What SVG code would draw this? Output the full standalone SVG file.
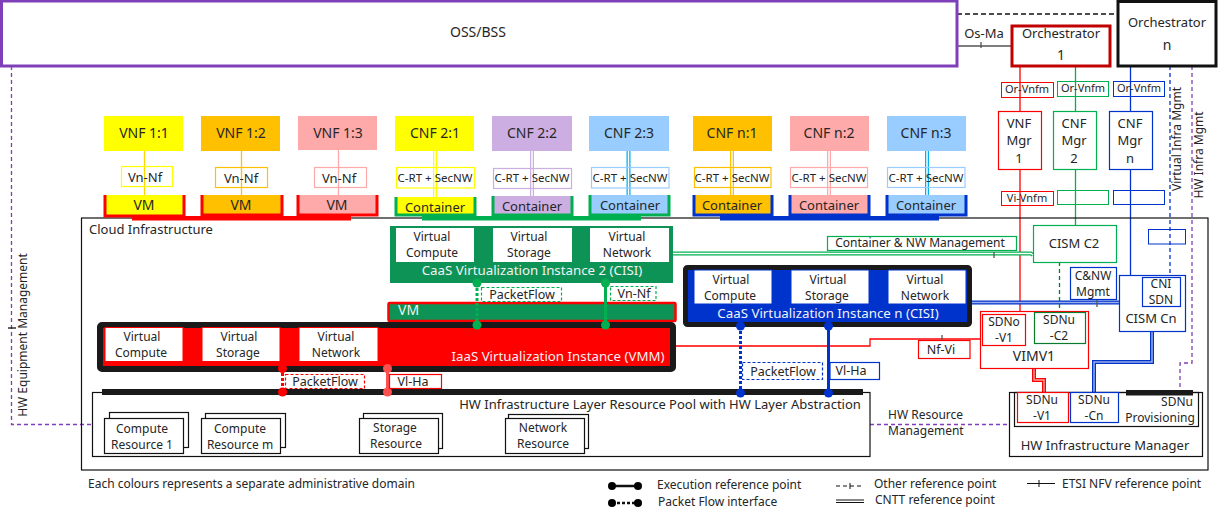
<svg xmlns="http://www.w3.org/2000/svg" width="1226" height="518" viewBox="0 0 1226 518">
<style>
text{font-family:"Noto Sans","Liberation Sans",sans-serif;font-size:13px;fill:#262626;text-anchor:middle}
.s{font-size:12px}
.xs{font-size:11px}
.m{font-size:12.500px}
.t{font-size:14px}
.l{text-anchor:start}
.w{fill:#f2f2f2;font-size:13.300px}
.b{fill:none;stroke:#111;stroke-width:1.2}
.wb{fill:#fff;stroke:#111;stroke-width:1.2}
.n{fill:#fff;stroke-width:1.2}
.red{stroke:#f00}.grn{stroke:#00b050}.blu{stroke:#0033cc}.dk{stroke:#111}
.f{fill:none}
.ln{fill:none;stroke-width:1.3}
.dl{fill:none;stroke-width:4}
.in{fill:none;stroke:#fff;stroke-width:1.5}
.dash{stroke-dasharray:4 3}
.pf{stroke-dasharray:3 2}
</style>
<g id="connectors">
<path class="ln dk" d="M957 14H1118" stroke-dasharray="5 3"/>
<path class="ln" stroke="#555" d="M957 46H1012M981 42V48"/>
<path class="ln" stroke="#f00" d="M1020 66V312"/>
<path class="ln" stroke="#00b050" d="M1075.500 66V225"/>
<path class="ln blu" d="M1130.500 66V275"/>
<path class="ln blu dash" d="M1170 66V275"/>
<path class="ln dash" stroke="#7f3fb8" d="M1192 66V363H1180V390"/>
<path class="ln dash" stroke="#7f3fb8" d="M11.500 66V424.500H92.500"/>
<path class="ln" stroke="#111" d="M8 328H16"/>
<path class="ln dash" stroke="#7f3fb8" d="M870 424.500H1009"/>
<path class="ln" stroke="#ffd500" d="M144.500 151V220"/>
<path class="ln" stroke="#ffc000" d="M241.500 151V220"/>
<path class="ln" stroke="#ffaaaa" d="M338.500 150V220"/>
<path class="dl" stroke="#ffff00" d="M435 151V218"/><path class="in" d="M435 151V218"/>
<path class="dl" stroke="#ccaee2" d="M532 151V218"/><path class="in" d="M532 151V218"/>
<path class="dl" stroke="#00b0f0" d="M628.500 151V218"/><path class="in" d="M628.500 151V218"/>
<path class="dl" stroke="#ffc000" d="M732 151V218"/><path class="in" d="M732 151V218"/>
<path class="dl" stroke="#ffaaaa" d="M829 151V218"/><path class="in" d="M829 151V218"/>
<path class="dl" stroke="#00b0f0" d="M927 151V218"/><path class="in" d="M927 151V218"/>
<path class="dl" stroke="#00b050" d="M672 253.500H1031L1033 255"/><path class="in" d="M672 253.500H1031L1033 255"/>
<path class="ln" stroke="#555" d="M994 252V258"/>
<path class="dl" stroke="#0033cc" d="M970 302.500H1119"/><path class="in" stroke-opacity=".6" d="M970 302.500H1119"/>
<path class="ln" stroke="#555" d="M1097 299V307"/>
<path class="ln dash" stroke="#0a7a2f" d="M1059.500 262V309"/>
<path class="ln" stroke="#f00" d="M673 346H870V339H980"/>
<path class="ln" stroke="#555" d="M942 335V341"/>
<path class="dl" stroke="#f00" d="M1034 368V380H1044V392"/><path class="in" stroke-opacity=".6" d="M1034 368V380H1044V392"/>
<path class="dl" stroke="#0033cc" d="M1152 331V362H1094V392"/><path class="in" stroke-opacity=".6" d="M1152 331V362H1094V392"/>
</g>
<g id="cloud-infrastructure"><rect class="b" x="81.500" y="218" width="1126.500" height="252"/><text class="l" x="89" y="234">Cloud Infrastructure</text></g>
<g id="oss-bss"><rect x="1.500" y="1" width="955.500" height="65" fill="#fff" stroke="#7f3fb8" stroke-width="3"/><text class="t" x="478" y="37">OSS/BSS</text></g>
<text x="984" y="38">Os-Ma</text>
<g id="orchestrator-1"><rect x="1012" y="26" width="98" height="40" fill="#fff" stroke="#c00000" stroke-width="3"/><text x="1061" y="38">Orchestrator</text><text class="t" x="1061" y="60">1</text></g>
<g id="orchestrator-n"><rect x="1118" y="1.500" width="98" height="64.500" fill="#fff" stroke="#111" stroke-width="3"/><text x="1167" y="27">Orchestrator</text><text class="t" x="1167" y="50">n</text></g>
<g id="or-vnfm"><rect class="f red" x="1001.500" y="82.500" width="52" height="15"/><text class="xs" x="1027" y="93">Or-Vnfm</text>
<rect class="f grn" x="1057.500" y="81.500" width="51" height="15"/><text class="xs" x="1083" y="92">Or-Vnfm</text>
<rect class="f blu" x="1113.500" y="81.500" width="51" height="15"/><text class="xs" x="1139" y="92">Or-Vnfm</text></g>
<g id="vnf-mgr-1"><rect class="n red" x="998.500" y="111.500" width="43" height="58"/><text x="1019" y="128">VNF</text><text x="1019" y="145">Mgr</text><text x="1019" y="163">1</text></g>
<g id="cnf-mgr-2"><rect class="n grn" x="1053.500" y="111.500" width="43" height="58"/><text x="1074" y="128">CNF</text><text x="1074" y="145">Mgr</text><text x="1074" y="163">2</text></g>
<g id="cnf-mgr-n"><rect class="n blu" x="1109.500" y="111.500" width="43" height="58"/><text x="1130" y="128">CNF</text><text x="1130" y="145">Mgr</text><text x="1130" y="163">n</text></g>
<g id="vi-vnfm"><rect class="f red" x="1001.500" y="191.500" width="52" height="14"/><text class="xs" x="1027" y="202">Vi-Vnfm</text>
<rect class="f grn" x="1057.500" y="190.500" width="51" height="14"/><rect class="f blu" x="1113.500" y="190.500" width="51" height="14"/><rect class="f blu" x="1148.500" y="229.500" width="37" height="14.500"/></g>
<text class="s" transform="translate(1181 139) rotate(-90)">Virtual Infra Mgmt</text>
<text class="s" transform="translate(1203 155) rotate(-90)">HW Infra Mgmt</text>
<text class="s" transform="translate(27 335) rotate(-90)">HW Equipment Management</text>
<g id="vnf-1-1"><rect x="104" y="116" width="79" height="35" fill="#ffff00"/><text class="t" x="144" y="138">VNF 1:1</text></g>
<g id="vnf-1-2"><rect x="201" y="116" width="79" height="35" fill="#ffc000"/><text class="t" x="241" y="138">VNF 1:2</text></g>
<g id="vnf-1-3"><rect x="298" y="116" width="79" height="34" fill="#ffaaaa"/><text class="t" x="338" y="138">VNF 1:3</text></g>
<g id="cnf-2-1"><rect x="395" y="116" width="79" height="35" fill="#ffff00"/><text class="t" x="435" y="138">CNF 2:1</text></g>
<g id="cnf-2-2"><rect x="492" y="116" width="80" height="35" fill="#ccaee2"/><text class="t" x="532" y="138">CNF 2:2</text></g>
<g id="cnf-2-3"><rect x="589" y="116" width="80" height="35" fill="#99ccff"/><text class="t" x="629" y="138">CNF 2:3</text></g>
<g id="cnf-n-1"><rect x="693" y="116" width="79" height="35" fill="#ffc000"/><text class="t" x="732" y="138">CNF n:1</text></g>
<g id="cnf-n-2"><rect x="790" y="116" width="79" height="35" fill="#ffaaaa"/><text class="t" x="829" y="138">CNF n:2</text></g>
<g id="cnf-n-3"><rect x="887" y="116" width="79" height="35" fill="#99ccff"/><text class="t" x="926" y="138">CNF n:3</text></g>
<g id="vn-nf-labels">
<rect class="f" stroke="#ffff00" stroke-width="1.200" x="121.500" y="166.500" width="51" height="20"/><text x="145" y="182">Vn-Nf</text>
<rect class="f" stroke="#ffc000" stroke-width="1.200" x="215.500" y="167.500" width="52" height="20"/><text x="241" y="183">Vn-Nf</text>
<rect class="f" stroke="#ffaaaa" stroke-width="1.200" x="314.500" y="167.500" width="52" height="20"/><text x="339" y="183">Vn-Nf</text>
</g>
<g id="c-rt-labels">
<rect class="f" stroke="#ffff00" stroke-width="1.200" x="396.500" y="167.500" width="78" height="20.500"/><text class="xs" font-size="11.500" x="435" y="182" style="font-size:11.500px">C-RT + SecNW</text>
<rect class="f" stroke="#ccaee2" stroke-width="1.200" x="493.500" y="168.500" width="78" height="20"/><text style="font-size:11.500px" x="532" y="182">C-RT + SecNW</text>
<rect class="f" stroke="#99ccff" stroke-width="1.200" x="591.500" y="167.500" width="77.500" height="20.500"/><text style="font-size:11.500px" x="630" y="182">C-RT + SecNW</text>
<rect class="f" stroke="#ffc000" stroke-width="1.200" x="694.500" y="167.500" width="76.500" height="20"/><text style="font-size:11.500px" x="732" y="182">C-RT + SecNW</text>
<rect class="f" stroke="#ffaaaa" stroke-width="1.200" x="790.500" y="167.500" width="77" height="20"/><text style="font-size:11.500px" x="829" y="182">C-RT + SecNW</text>
<rect class="f" stroke="#99ccff" stroke-width="1.200" x="887.500" y="167.500" width="77.500" height="20"/><text style="font-size:11.500px" x="926" y="182">C-RT + SecNW</text>
</g>
<g id="vm-row">
<rect x="132" y="216" width="219" height="4.500" fill="#f00"/>
<path d="M105 195V216H184V195" fill="#ffff00" stroke="#f00" stroke-width="3"/><text class="t" x="144" y="210">VM</text>
<path d="M202 195V215H282V195" fill="#ffc000" stroke="#f00" stroke-width="3"/><text class="t" x="241" y="210">VM</text>
<path d="M298 195V215H377V195" fill="#ffaaaa" stroke="#f00" stroke-width="3"/><text class="t" x="337" y="210">VM</text>
</g>
<g id="container-row-2">
<rect x="422" y="216" width="219" height="4.500" fill="#00b050"/>
<path d="M396 197V215H475V197" fill="#ffff00" stroke="#00b050" stroke-width="3"/><text x="435" y="212">Container</text>
<path d="M493 196V215H572V196" fill="#ccaee2" stroke="#00b050" stroke-width="3"/><text x="532" y="211">Container</text>
<path d="M590 195V215H669V195" fill="#99ccff" stroke="#00b050" stroke-width="3"/><text x="630" y="210">Container</text>
</g>
<g id="container-row-n">
<rect x="720" y="216" width="219" height="4.500" fill="#0033cc"/>
<path d="M694 195V215H772V195" fill="#ffc000" stroke="#0033cc" stroke-width="3"/><text x="732" y="210">Container</text>
<path d="M790 195V215H869V195" fill="#ffaaaa" stroke="#0033cc" stroke-width="3"/><text x="829" y="210">Container</text>
<path d="M887 195V215H966V195" fill="#99ccff" stroke="#0033cc" stroke-width="3"/><text x="926" y="210">Container</text>
</g>
<g id="caas-2"><rect x="390" y="226" width="283" height="57" fill="#0e9356"/>
<rect x="396" y="228" width="78" height="34" fill="#fff"/><text class="s" x="432" y="241">Virtual</text><text class="s" x="432" y="257">Compute</text>
<rect x="493" y="228" width="79" height="34" fill="#fff"/><text class="s" x="529" y="241">Virtual</text><text class="s" x="529" y="257">Storage</text>
<rect x="590" y="228" width="79" height="34" fill="#fff"/><text class="s" x="627" y="241">Virtual</text><text class="s" x="627" y="257">Network</text>
<text class="w" x="532" y="275">CaaS Virtualization Instance 2 (CISI)</text></g>
<g id="vm-green"><rect x="388.500" y="303" width="287" height="18" fill="#0e9356" stroke="#f00" stroke-width="2.500" rx="1"/><text class="w l" style="font-size:14px" x="398" y="315">VM</text></g>
<g id="caas-n"><rect x="685.500" y="267.500" width="284" height="57" fill="#0033cc" stroke="#1a1a1a" stroke-width="5" rx="2"/>
<rect x="694" y="270" width="78" height="34" fill="#fff" stroke="#0033cc"/><text class="s" x="731" y="284">Virtual</text><text class="s" x="730" y="300">Compute</text>
<rect x="791" y="270" width="78" height="34" fill="#fff" stroke="#0033cc"/><text class="s" x="828" y="284">Virtual</text><text class="s" x="827" y="300">Storage</text>
<rect x="888" y="270" width="78" height="34" fill="#fff" stroke="#0033cc"/><text class="s" x="925" y="284">Virtual</text><text class="s" x="925" y="300">Network</text>
<text class="w" x="828" y="318">CaaS Virtualization Instance n (CISI)</text></g>
<g id="iaas"><rect x="100" y="325" width="573" height="44" fill="#f00" stroke="#1a1a1a" stroke-width="6" rx="2"/>
<rect x="105" y="327.500" width="78" height="34" fill="#fff" stroke="#f00"/><text class="s" x="142" y="341">Virtual</text><text class="s" x="141" y="357">Compute</text>
<rect x="202" y="327.500" width="78" height="34" fill="#fff" stroke="#f00"/><text class="s" x="239" y="341">Virtual</text><text class="s" x="238" y="357">Storage</text>
<rect x="299" y="327.500" width="79" height="34" fill="#fff" stroke="#f00"/><text class="s" x="336" y="341">Virtual</text><text class="s" x="336" y="357">Network</text>
<text class="w" x="558" y="361">IaaS Virtualization Instance (VMM)</text></g>
<g id="hw-pool"><rect class="wb" x="92.500" y="392.500" width="777.500" height="64"/><rect x="102" y="389" width="761" height="6" fill="#1a1a1a"/>
<text x="660" y="409">HW Infrastructure Layer Resource Pool with HW Layer Abstraction</text></g>
<g id="compute-1"><rect class="wb" x="109.500" y="412.500" width="79" height="35"/><rect class="wb" x="104.500" y="418.500" width="79" height="35"/><text class="s" x="142" y="433">Compute</text><text class="s" x="142" y="449">Resource 1</text></g>
<g id="compute-m"><rect class="wb" x="205.500" y="413.500" width="80" height="34"/><rect class="wb" x="201.500" y="418.500" width="79" height="35"/><text class="s" x="240" y="433">Compute</text><text class="s" x="240" y="449">Resource m</text></g>
<g id="storage"><rect class="wb" x="363.500" y="413.500" width="79" height="35"/><rect class="wb" x="359.500" y="418.500" width="79" height="35"/><text class="s" x="395" y="432">Storage</text><text class="s" x="396" y="448">Resource</text></g>
<g id="network"><rect class="wb" x="508.500" y="414.500" width="80" height="34"/><rect class="wb" x="505.500" y="418.500" width="79" height="35"/><text class="s" x="543" y="432">Network</text><text class="s" x="543" y="448">Resource</text></g>
<g id="reference-points">
<path d="M477 283V325" stroke="#00b050" stroke-width="3" stroke-dasharray="3 2" fill="none"/><circle cx="477" cy="283" r="4.500" fill="#00b050"/><circle cx="477" cy="325" r="4.500" fill="#00b050"/>
<path d="M605.500 283V325" stroke="#00b050" stroke-width="3" fill="none"/><circle cx="605.500" cy="283" r="4.500" fill="#00b050"/><circle cx="605.500" cy="325" r="4.500" fill="#00b050"/>
<path d="M740.500 326V393" stroke="#0033cc" stroke-width="3" stroke-dasharray="3 2" fill="none"/><circle cx="740.500" cy="326" r="4.500" fill="#0033cc"/><circle cx="740.500" cy="393" r="4.500" fill="#0033cc"/>
<path d="M828.500 326V393" stroke="#0033cc" stroke-width="3" fill="none"/><circle cx="828.500" cy="326" r="4.500" fill="#0033cc"/><circle cx="828.500" cy="393" r="4.500" fill="#0033cc"/>
<path d="M282.500 368V392" stroke="#f00" stroke-width="3" stroke-dasharray="3 2" fill="none"/><circle cx="282.500" cy="368.500" r="4.500" fill="#f00"/><circle cx="282.500" cy="392" r="4.500" fill="#f00"/>
<path d="M387.500 368V392" stroke="#ff5050" stroke-width="3" fill="none"/><circle cx="387.500" cy="368.500" r="4.500" fill="#ff5050"/><circle cx="387.500" cy="392" r="4.500" fill="#ff5050"/>
</g>
<g id="interface-labels">
<rect class="n grn pf" x="481.500" y="287.500" width="80" height="14"/><text class="m" x="522" y="299">PacketFlow</text>
<rect class="n grn pf" x="610.500" y="286.500" width="45.500" height="14"/><text class="m" x="634" y="298">Vn-Nf</text>
<rect class="n blu pf" x="742.500" y="362.500" width="80" height="17"/><text class="m" x="783" y="376">PacketFlow</text>
<rect class="n blu" x="830" y="362.500" width="49.500" height="17"/><text class="m" x="851" y="375">Vl-Ha</text>
<rect class="n red pf" x="285.500" y="374.500" width="79" height="14"/><text class="m" x="325" y="386">PacketFlow</text>
<rect class="n red" x="389.500" y="374.500" width="52" height="14"/><text class="m" x="413" y="386">Vl-Ha</text>
<rect class="n red" x="918.500" y="340.500" width="51.500" height="18"/><text class="m" x="941" y="354">Nf-Vi</text>
<rect class="n grn" x="827.500" y="236.500" width="189" height="14"/><text class="s" x="920" y="247">Container &amp; NW Management</text>
</g>
<g id="cism-c2"><rect class="n grn" x="1033.500" y="225.500" width="83" height="37"/><text x="1074" y="248">CISM C2</text></g>
<g id="cnw-mgmt"><rect class="n blu" x="1070.500" y="267.500" width="46" height="32"/><text class="s" x="1093" y="280">C&amp;NW</text><text class="s" x="1093" y="296">Mgmt</text></g>
<g id="cism-cn"><rect class="n blu" x="1119.500" y="275.500" width="66" height="56"/><text x="1151" y="323">CISM Cn</text><rect class="n blu" x="1142.500" y="277.500" width="38" height="29"/><text class="s" x="1161" y="288">CNI</text><text class="s" x="1161" y="304">SDN</text></g>
<g id="vimv1"><rect class="n red" x="980.500" y="311.500" width="108" height="57"/><text class="t" x="1034" y="361">VIMV1</text><rect class="n red" x="982.500" y="314.500" width="43" height="31"/><text class="s" x="1004" y="326">SDNo</text><text class="s" x="1004" y="342">-V1</text><rect x="1034.500" y="312.500" width="51" height="31" fill="#fff" stroke="#0a7a2f" stroke-width="1.200"/><text class="s" x="1059" y="324">SDNu</text><text class="s" x="1059" y="340">-C2</text></g>
<g id="hw-manager"><rect class="wb" x="1009.500" y="392.500" width="193" height="64"/><rect class="b" x="1014.500" y="392.500" width="184" height="34"/>
<rect class="n red" x="1017.500" y="392.500" width="51" height="30"/><text class="s" x="1042" y="404">SDNu</text><text class="s" x="1042" y="420">-V1</text>
<rect class="n blu" x="1070.500" y="392.500" width="48" height="30"/><text class="s" x="1094" y="404">SDNu</text><text class="s" x="1094" y="420">-Cn</text>
<rect x="1126" y="390" width="67" height="5.500" fill="#1a1a1a"/><text class="s" x="1177" y="406">SDNu</text><text class="s" x="1160" y="422">Provisioning</text>
<text x="1105" y="450">HW Infrastructure Manager</text></g>
<text class="l s" x="888" y="419">HW Resource</text><text class="l s" x="888" y="435">Management</text>
<g id="legend">
<text class="l s" x="88" y="488">Each colours represents a separate administrative  domain</text>
<path d="M612 486H638" stroke="#111" stroke-width="2.500"/><circle cx="612" cy="486" r="4"/><circle cx="638" cy="486" r="4"/><text class="l s" x="657" y="489">Execution reference point</text>
<path d="M612 503H638" stroke="#111" stroke-width="2.500" stroke-dasharray="3 2"/><circle cx="612" cy="503" r="4"/><circle cx="638" cy="503" r="4"/><text class="l s" x="658" y="506">Packet Flow interface</text>
<path d="M836 486H864" stroke="#111" stroke-dasharray="4 3"/><path d="M850 483V489" stroke="#111"/><text class="l s" x="874" y="488">Other reference point</text>
<path d="M836 500H864M836 502.500H864" stroke="#111"/><text class="l s" x="875" y="504">CNTT reference point</text>
<path d="M1027 483.500H1055M1039 480V487" stroke="#111"/><text class="l s" x="1062" y="488">ETSI NFV reference point</text>
</g>
</svg>
